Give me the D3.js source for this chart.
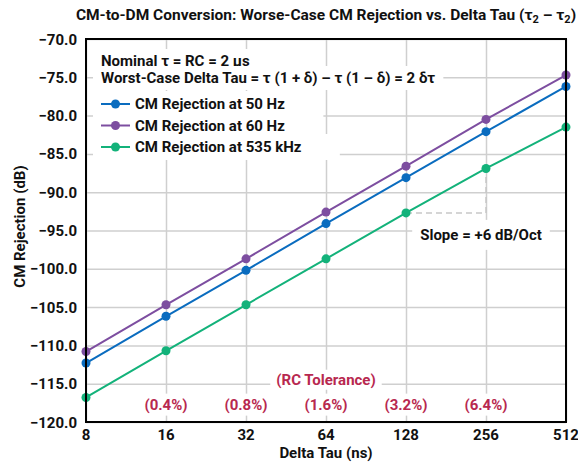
<!DOCTYPE html>
<html>
<head>
<meta charset="utf-8">
<script src="https://cdn.jsdelivr.net/npm/d3@7"></script>
<style>
  body { margin: 0; background: #fff; }
  text { font-family: Roboto, "Noto Sans", sans-serif; font-weight: 700; }
  .grid line { stroke: #cfcfcf; stroke-width: 1.5; }
  .grid path { display: none; }
</style>
</head>
<body>
<div id="graph"></div>
<script>
const deltaTau = [8, 16, 32, 64, 128, 256, 512];
const rej50Hz = [-112.3, -106.2, -100.2, -94.1, -88.1, -82.1, -76.2];
const rej60Hz = [-110.8, -104.7, -98.7, -92.6, -86.6, -80.5, -74.7];
const rej535kHz = [-116.8, -110.7, -104.7, -98.7, -92.7, -86.9, -81.5];
const yTicks = [-70, -75, -80, -85, -90, -95, -100, -105, -110, -115, -120];
const tolTau = [16, 32, 64, 128, 256];
const tolLabels = ["(0.4%)", "(0.8%)", "(1.6%)", "(3.2%)", "(6.4%)"];

const series = [
  { name: "CM Rejection at 50 Hz", values: rej50Hz, color: "#0a6cbf" },
  { name: "CM Rejection at 60 Hz", values: rej60Hz, color: "#7d4ea0" },
  { name: "CM Rejection at 535 kHz", values: rej535kHz, color: "#13b27a" }
];

const margin = { top: 39, right: 12, bottom: 42, left: 86 };
const W = 578, H = 464;
const width = W - margin.left - margin.right;
const height = H - margin.top - margin.bottom;
const fs = 15;

const x = d3.scaleLog().base(2).domain([8, 512]).range([0, width]);
const y = d3.scaleLinear().domain([-120, -70]).range([height, 0]);

const svg = d3.select("#graph").append("svg")
  .attr("width", W)
  .attr("height", H);

const g = svg.append("g")
  .attr("transform", "translate(" + margin.left + "," + margin.top + ")");

// grid
g.append("g")
  .attr("class", "grid")
  .call(d3.axisLeft(y).tickValues(yTicks).tickSize(-width).tickFormat(""));
g.append("g")
  .attr("class", "grid")
  .call(d3.axisBottom(x).tickValues(deltaTau).tickSize(height).tickFormat(""));

// helper: text with white box behind it
function boxedText(parent, tx, ty, str, opts) {
  const grp = parent.append("g");
  const rect = grp.append("rect").attr("fill", "#fff");
  const t = grp.append("text")
    .attr("x", tx)
    .attr("y", ty)
    .attr("text-anchor", opts.anchor || "start")
    .attr("fill", opts.color || "#111")
    .style("font-size", (opts.size || fs) + "px")
    .text(str);
  const bb = t.node().getBBox();
  const px = opts.padX == null ? 4 : opts.padX, py = opts.padY == null ? 2 : opts.padY;
  rect.attr("x", bb.x - px).attr("y", bb.y - py)
    .attr("width", bb.width + 2 * px).attr("height", bb.height + 2 * py);
  return t;
}

// dashed slope marker
const xa = x(128), xb = x(256);
const ya = y(rej535kHz[4]), yb = y(rej535kHz[5]);
g.append("path")
  .attr("d", "M" + xa + "," + ya + "H" + xb + "V" + yb)
  .attr("fill", "none")
  .attr("stroke", "#c8c8c8")
  .attr("stroke-width", 1.5)
  .attr("stroke-dasharray", "6,4");

boxedText(g, xb - 5, ya + 27, "Slope = +6 dB/Oct", { anchor: "middle", padX: 8, padY: 6 });

// tolerance labels
boxedText(g, x(64), y(-115) + 1, "(RC Tolerance)", { anchor: "middle", color: "#b8284f", padX: 6, padY: 1 });
tolTau.forEach((d, i) => {
  boxedText(g, x(d), y(-117.6) + 6, tolLabels[i], { anchor: "middle", color: "#b8284f", padX: 4, padY: 2 });
});

// lines + dots
const line = d3.line()
  .x((d, i) => x(deltaTau[i]))
  .y(d => y(d));

series.forEach(s => {
  g.append("path")
    .datum(s.values)
    .attr("fill", "none")
    .attr("stroke", s.color)
    .attr("stroke-width", 2)
    .attr("d", line);
  g.selectAll(null)
    .data(s.values)
    .enter().append("circle")
    .attr("cx", (d, i) => x(deltaTau[i]))
    .attr("cy", d => y(d))
    .attr("r", 4.5)
    .attr("fill", s.color);
});

// frame
g.append("rect")
  .attr("width", width)
  .attr("height", height)
  .attr("fill", "none")
  .attr("stroke", "#000")
  .attr("stroke-width", 2);

// legend
const lg = g.append("g").attr("transform", "translate(15,0)");
boxedText(lg, 0, 27, "Nominal \u03c4 = RC = 2 \u00b5s", { padX: 8, padY: 3 });
boxedText(lg, 0, 44, "Worst-Case Delta Tau = \u03c4 (1 + \u03b4) \u2013 \u03c4 (1 \u2013 \u03b4) = 2 \u03b4\u03c4", { padX: 8, padY: 3 });
series.forEach((s, i) => {
  const yy = 65 + i * 21.5;
  const row = lg.append("g");
  boxedText(row, 34, yy + 5, s.name, { padX: 40, padY: 4 });
  row.select("rect").attr("x", -8);
  row.append("line")
    .attr("x1", 0).attr("x2", 29).attr("y1", yy).attr("y2", yy)
    .attr("stroke", s.color).attr("stroke-width", 2);
  row.append("circle")
    .attr("cx", 14.5).attr("cy", yy).attr("r", 4.5).attr("fill", s.color);
});

// axes labels
g.selectAll(".ytick")
  .data(yTicks)
  .enter().append("text")
  .attr("x", -9)
  .attr("y", d => y(d) + 5.5)
  .attr("text-anchor", "end")
  .attr("fill", "#111")
  .style("font-size", fs + "px")
  .text(d => d3.format(".1f")(d).replace("-", "\u2212"));

g.selectAll(".xtick")
  .data(deltaTau)
  .enter().append("text")
  .attr("x", d => x(d))
  .attr("y", height + 18)
  .attr("text-anchor", "middle")
  .attr("fill", "#111")
  .style("font-size", fs + "px")
  .text(d => d);

g.append("text")
  .attr("x", width / 2)
  .attr("y", height + 36)
  .attr("text-anchor", "middle")
  .attr("fill", "#111")
  .style("font-size", fs + "px")
  .text("Delta Tau (ns)");

g.append("text")
  .attr("transform", "rotate(-90)")
  .attr("x", -height / 2 + 4)
  .attr("y", -61)
  .attr("text-anchor", "middle")
  .attr("fill", "#111")
  .style("font-size", fs + "px")
  .text("CM Rejection (dB)");

// title
const title = svg.append("text")
  .attr("x", margin.left + width / 2)
  .attr("y", 20)
  .attr("text-anchor", "middle")
  .attr("fill", "#111")
  .style("font-size", "15.5px");
title.append("tspan").text("CM-to-DM Conversion: Worse-Case CM Rejection vs. Delta Tau (\u03c4");
title.append("tspan").attr("dy", 3).style("font-size", "11px").text("2");
title.append("tspan").attr("dy", -3).text(" \u2013 \u03c4");
title.append("tspan").attr("dy", 3).style("font-size", "11px").text("2");
title.append("tspan").attr("dy", -3).text(")");
</script>
</body>
</html>
